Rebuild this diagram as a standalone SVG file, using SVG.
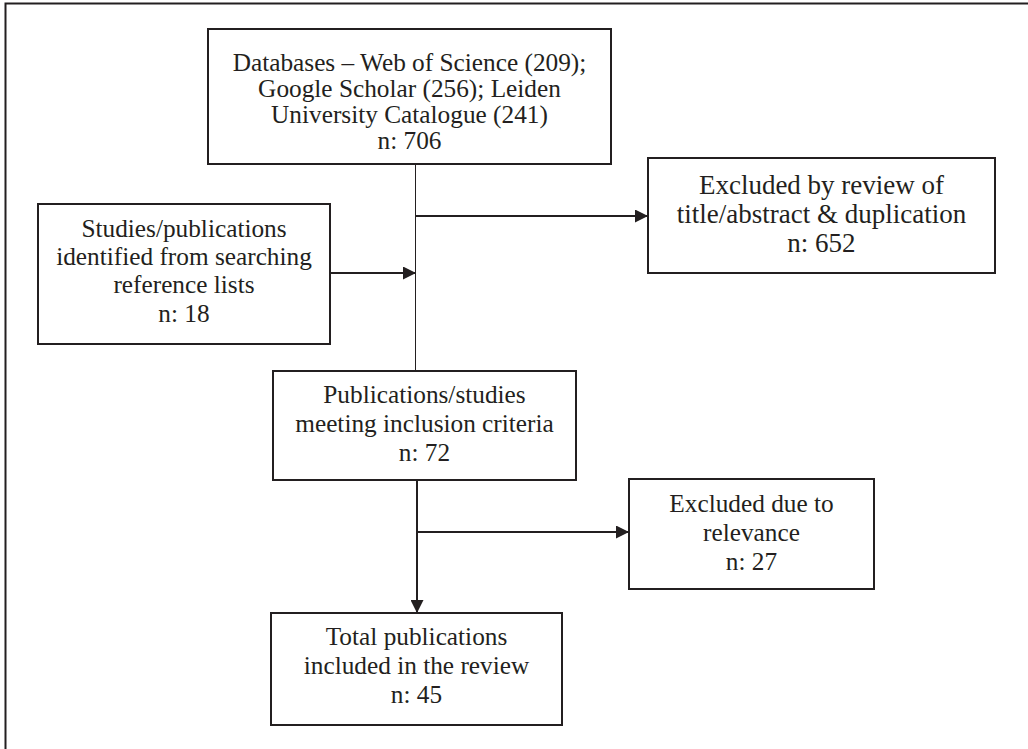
<svg xmlns="http://www.w3.org/2000/svg" width="1028" height="749" viewBox="0 0 1028 749">
<defs>
<style>
.box{fill:#fff;stroke:#231f20;stroke-width:2}
.t{font-family:"Liberation Serif","Times New Roman",serif;font-size:25.3px;fill:#231f20;text-anchor:middle}
.big{font-size:27px}
.c{stroke:#231f20;stroke-width:2;fill:none}
.thin{stroke:#231f20;stroke-width:1;fill:none}
</style>
<marker id="ah" viewBox="0 0 13 13" refX="13" refY="6.5" markerWidth="13" markerHeight="13" markerUnits="userSpaceOnUse" orient="auto">
<path d="M0,0 L13,6.5 L0,13 Z" fill="#231f20"/>
</marker>
</defs>
<rect width="1028" height="749" fill="#fff"/>
<path d="M5.5,749 V3.5 H1028" fill="none" stroke="#231f20" stroke-width="2"/>
<g id="connectors">
<path class="thin" d="M415.5,164 V371"/>
<path class="c" d="M416,216 H648" marker-end="url(#ah)"/>
<path class="c" d="M330,273 H416" marker-end="url(#ah)"/>
<path class="c" d="M417,480 V613" marker-end="url(#ah)"/>
<path class="c" d="M417,532 H629" marker-end="url(#ah)"/>
</g>
<g id="databases">
<rect class="box" x="208" y="29" width="403" height="135"/>
<text class="t" x="409.5" y="71">Databases – Web of Science (209);</text>
<text class="t" x="409.5" y="97">Google Scholar (256); Leiden</text>
<text class="t" x="409.5" y="123">University Catalogue (241)</text>
<text class="t" x="409.5" y="149">n: 706</text>
</g>
<g id="excluded1">
<rect class="box" x="648" y="158" width="347" height="115"/>
<text class="t big" x="821.5" y="194">Excluded by review of</text>
<text class="t big" x="821.5" y="223">title/abstract &amp; duplication</text>
<text class="t big" x="821.5" y="252">n: 652</text>
</g>
<g id="reflists">
<rect class="box" x="38" y="204" width="292" height="140"/>
<text class="t" x="184" y="237">Studies/publications</text>
<text class="t" x="184" y="265">identified from searching</text>
<text class="t" x="184" y="293">reference lists</text>
<text class="t" x="184" y="322">n: 18</text>
</g>
<g id="inclusion">
<rect class="box" x="273" y="371" width="303" height="109"/>
<text class="t" x="424.5" y="403">Publications/studies</text>
<text class="t" x="424.5" y="432">meeting inclusion criteria</text>
<text class="t" x="424.5" y="461">n: 72</text>
</g>
<g id="excluded2">
<rect class="box" x="629" y="479" width="245" height="110"/>
<text class="t" x="751.5" y="512">Excluded due to</text>
<text class="t" x="751.5" y="541">relevance</text>
<text class="t" x="751.5" y="570">n: 27</text>
</g>
<g id="total">
<rect class="box" x="271" y="613" width="291" height="112"/>
<text class="t" x="416.5" y="645">Total publications</text>
<text class="t" x="416.5" y="674">included in the review</text>
<text class="t" x="416.5" y="703">n: 45</text>
</g>
</svg>
